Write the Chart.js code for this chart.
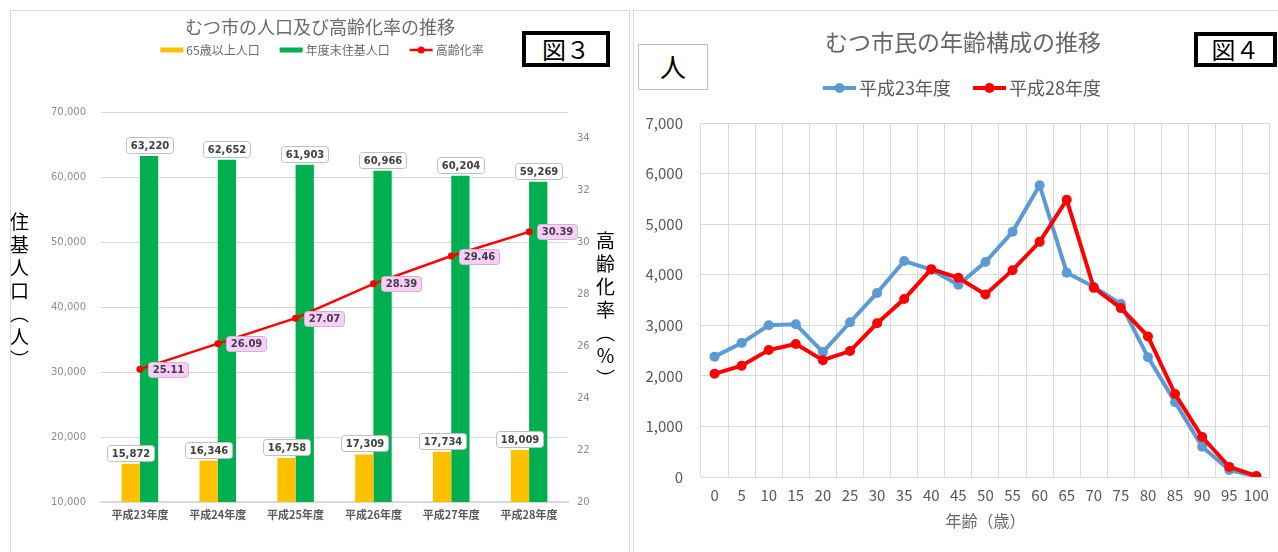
<!DOCTYPE html>
<html lang="ja">
<head>
<meta charset="UTF-8">
<title>むつ市の人口及び高齢化率の推移 / むつ市民の年齢構成の推移</title>
<script src="https://cdn.jsdelivr.net/npm/chart.js@4.4.1/dist/chart.umd.min.js"></script>
<style>
  html, body { margin: 0; padding: 0; background: #fff; }
  body { width: 1278px; height: 552px; position: relative; overflow: hidden; font-family: "Noto Sans CJK JP", sans-serif; }
  .panel { position: absolute; top: 10px; height: 560px; border: 1px solid #d9d9d9; border-bottom: none; }
  #panel3 { left: 10px; width: 618px; }
  #panel4 { left: 633px; width: 660px; border-right: none; }
  canvas { position: absolute; top: 11px; }
  #fig3 { left: 11px; }
  #fig4 { left: 634px; }
  .vtitle { position: absolute; writing-mode: vertical-rl; font-size: 19px; letter-spacing: 4px; color: #000; line-height: 1; }
  .tag { position: absolute; border: 4px solid #000; box-sizing: border-box; font-size: 24px; line-height: 1; text-align: center; color: #000; background: #fff; }
  .unit { position: absolute; border: 1.5px solid #bfbfbf; box-sizing: border-box; font-size: 26px; text-align: center; color: #000; background: #fff; }
</style>
</head>
<body>

<div class="panel" id="panel3"></div>
<div class="panel" id="panel4"></div>

<canvas id="fig3" width="617" height="541"></canvas>
<canvas id="fig4" width="644" height="541"></canvas>

<div class="vtitle" style="left:10px; top:212px;">住基人口（人）</div>
<div class="vtitle" style="left:596px; top:231px;">高齢化率（％）</div>

<div class="tag" style="left:522px; top:31px; width:88px; height:36px; padding-top:2px;">図３</div>
<div class="tag" style="left:1194px; top:32px; width:83px; height:35px; padding-top:1px;">図４</div>
<div class="unit" style="left:638px; top:44px; width:70px; height:46px; line-height:42px;">人</div>

<script>
// 図3 データ
const fiscalYears = ['平成23年度', '平成24年度', '平成25年度', '平成26年度', '平成27年度', '平成28年度'];
const elderlyPop = [15872, 16346, 16758, 17309, 17734, 18009];
const residentPop = [63220, 62652, 61903, 60966, 60204, 59269];
const agingRate = [25.11, 26.09, 27.07, 28.39, 29.46, 30.39];

// 図4 データ
const ageGroups = ['0', '5', '10', '15', '20', '25', '30', '35', '40', '45', '50',
                   '55', '60', '65', '70', '75', '80', '85', '90', '95', '100'];
const popH23 = [2380, 2650, 3000, 3020, 2470, 3060, 3640, 4270, 4100, 3800, 4250,
                4850, 5770, 4040, 3760, 3420, 2370, 1480, 600, 140, 10];
const popH28 = [2040, 2200, 2510, 2630, 2310, 2490, 3040, 3520, 4110, 3940, 3610,
                4090, 4650, 5480, 3740, 3340, 2780, 1640, 790, 200, 20];

Chart.defaults.font.family = '"Noto Sans CJK JP", sans-serif';

const fmt = (v, d) => v.toLocaleString('en-US', { minimumFractionDigits: d, maximumFractionDigits: d });

// boxed data labels (like excel callouts)
const boxLabels = {
  id: 'boxLabels',
  afterDatasetsDraw(chart) {
    const ctx = chart.ctx;
    chart.data.datasets.forEach((ds, i) => {
      const lab = ds.boxLabel;
      if (!lab) return;
      const meta = chart.getDatasetMeta(i);
      ctx.save();
      ctx.font = lab.font;
      meta.data.forEach((el, j) => {
        const text = fmt(ds.data[j], lab.decimals);
        const w = Math.round(ctx.measureText(text).width + lab.padX * 2);
        const h = lab.height;
        let x, y;
        if (lab.side === 'top') {
          x = Math.round(el.x - w / 2);
          y = Math.round(el.y - lab.gap - h);
        } else {
          x = Math.round(el.x + lab.gap);
          y = Math.round(el.y - h / 2);
        }
        ctx.beginPath();
        ctx.roundRect(x + 0.5, y + 0.5, w, h, 3);
        ctx.fillStyle = lab.fill;
        ctx.fill();
        ctx.strokeStyle = '#bfbfbf';
        ctx.lineWidth = 1;
        ctx.stroke();
        ctx.fillStyle = '#404040';
        ctx.textAlign = 'center';
        ctx.textBaseline = 'middle';
        ctx.fillText(text, x + w / 2 + 0.5, y + h / 2 + 1);
      });
      ctx.restore();
    });
  }
};

// title + legend drawn the excel way
const excelDecor = {
  id: 'excelDecor',
  afterDraw(chart, args, opts) {
    const ctx = chart.ctx;
    ctx.save();
    ctx.textBaseline = 'middle';
    if (opts.title) {
      ctx.font = opts.title.font;
      ctx.fillStyle = opts.title.color;
      ctx.textAlign = 'center';
      ctx.fillText(opts.title.text, opts.title.x, opts.title.y);
    }
    if (opts.legend) {
      const L = opts.legend;
      ctx.font = L.font;
      const items = chart.data.datasets.map(ds => ({
        ds,
        line: (ds.type || chart.config.type) === 'line',
        tw: ctx.measureText(ds.label).width
      }));
      const total = items.reduce((s, it) => s + L.markW + L.markGap + it.tw, 0) + L.itemGap * (items.length - 1);
      let x = L.x - total / 2;
      items.forEach(it => {
        const c = it.ds.borderColor || it.ds.backgroundColor;
        if (it.line) {
          ctx.strokeStyle = c;
          ctx.lineWidth = L.lineW;
          ctx.beginPath();
          ctx.moveTo(x, L.y);
          ctx.lineTo(x + L.markW, L.y);
          ctx.stroke();
          ctx.fillStyle = c;
          ctx.beginPath();
          ctx.arc(x + L.markW / 2, L.y, L.dotR, 0, Math.PI * 2);
          ctx.fill();
        } else {
          ctx.fillStyle = it.ds.backgroundColor;
          ctx.fillRect(x, L.y - L.rectH / 2, L.markW, L.rectH);
        }
        x += L.markW + L.markGap;
        ctx.fillStyle = L.color;
        ctx.textAlign = 'left';
        ctx.fillText(it.ds.label, x, L.y);
        x += it.tw + L.itemGap;
      });
    }
    ctx.restore();
  }
};

// 図3
new Chart(document.getElementById('fig3'), {
  type: 'bar',
  data: {
    labels: fiscalYears,
    datasets: [
      {
        label: '65歳以上人口', data: elderlyPop, yAxisID: 'y', order: 1,
        backgroundColor: '#ffc000', borderWidth: 0,
        categoryPercentage: 0.47, barPercentage: 1,
        boxLabel: { side: 'top', gap: 3, height: 16, padX: 4, decimals: 0, fill: '#ffffff', font: 'bold 10px "DejaVu Sans"' }
      },
      {
        label: '年度末住基人口', data: residentPop, yAxisID: 'y', order: 1,
        backgroundColor: '#00b050', borderWidth: 0,
        categoryPercentage: 0.47, barPercentage: 1,
        boxLabel: { side: 'top', gap: 3, height: 16, padX: 4, decimals: 0, fill: '#ffffff', font: 'bold 10px "DejaVu Sans"' }
      },
      {
        type: 'line', label: '高齢化率', data: agingRate, yAxisID: 'y1', order: 0,
        borderColor: '#ff0000', backgroundColor: '#ff0000', borderWidth: 2.5,
        pointRadius: 3.5, pointBorderWidth: 0, tension: 0,
        boxLabel: { side: 'right', gap: 8, height: 15, padX: 4, decimals: 2, fill: '#ffccff', font: 'bold 10px "DejaVu Sans"' }
      }
    ]
  },
  options: {
    responsive: false,
    animation: false,
    layout: { padding: { top: 101 } },
    plugins: {
      legend: { display: false },
      tooltip: { enabled: false },
      excelDecor: {
        title: { text: 'むつ市の人口及び高齢化率の推移', x: 309, y: 16, font: '18px "Noto Sans CJK JP"', color: '#6b6b6b' },
        legend: { x: 311, y: 39, font: '12px "Noto Sans CJK JP"', color: '#6b6b6b', markW: 23, markGap: 3, itemGap: 20, rectH: 5, lineW: 2.5, dotR: 3.5 }
      }
    },
    scales: {
      x: {
        grid: { display: false, drawTicks: false },
        border: { color: '#d9d9d9', width: 2 },
        ticks: { padding: 6, color: '#595959', font: { size: 11, weight: 'bold' }, maxRotation: 0 },
        afterFit: s => { s.height = 50; }
      },
      y: {
        position: 'left', min: 10000, max: 70000,
        ticks: { stepSize: 10000, padding: 15, color: '#8c8c8c', font: { family: '"DejaVu Sans"', size: 10 }, callback: v => fmt(v, 0) },
        grid: { color: '#d9d9d9', drawTicks: false },
        border: { display: false },
        afterFit: s => { s.width = 90; }
      },
      y1: {
        position: 'right', min: 20, max: 35,
        ticks: { stepSize: 2, includeBounds: false, padding: 9, color: '#8c8c8c', font: { family: '"DejaVu Sans"', size: 10 } },
        grid: { drawOnChartArea: false, drawTicks: false },
        border: { display: false },
        afterFit: s => { s.width = 60; }
      }
    }
  },
  plugins: [boxLabels, excelDecor]
});

// 図4
new Chart(document.getElementById('fig4'), {
  type: 'line',
  data: {
    labels: ageGroups,
    datasets: [
      { label: '平成23年度', data: popH23, order: 1, borderColor: '#5b9bd5', backgroundColor: '#5b9bd5', borderWidth: 4, pointRadius: 5, pointBorderWidth: 0, tension: 0 },
      { label: '平成28年度', data: popH28, order: 0, borderColor: '#ff0000', backgroundColor: '#ff0000', borderWidth: 4, pointRadius: 5, pointBorderWidth: 0, tension: 0 }
    ]
  },
  options: {
    responsive: false,
    animation: false,
    layout: { padding: { top: 112, right: 7 } },
    plugins: {
      legend: { display: false },
      tooltip: { enabled: false },
      excelDecor: {
        title: { text: 'むつ市民の年齢構成の推移', x: 329, y: 31, font: '23px "Noto Sans CJK JP"', color: '#666666' },
        legend: { x: 328, y: 77, font: '18px "Noto Sans CJK JP"', color: '#595959', markW: 33, markGap: 3, itemGap: 22, rectH: 5, lineW: 4, dotR: 5 }
      }
    },
    scales: {
      x: {
        offset: true,
        grid: { offset: true, color: '#d9d9d9', drawTicks: false },
        border: { color: '#d9d9d9' },
        ticks: { padding: 9, color: '#595959', font: { size: 15 }, maxRotation: 0, autoSkip: false },
        title: { display: true, text: '年齢（歳）', color: '#6b6b6b', font: { size: 16 }, padding: { top: 0, bottom: 21 } },
        afterFit: s => { s.height = 75; }
      },
      y: {
        min: 0, max: 7000,
        ticks: { stepSize: 1000, padding: 18, color: '#595959', font: { size: 15 }, callback: v => fmt(v, 0) },
        grid: { color: '#d9d9d9', drawTicks: false },
        border: { display: false },
        afterFit: s => { s.width = 67; }
      }
    }
  },
  plugins: [excelDecor]
});
</script>
</body>
</html>
